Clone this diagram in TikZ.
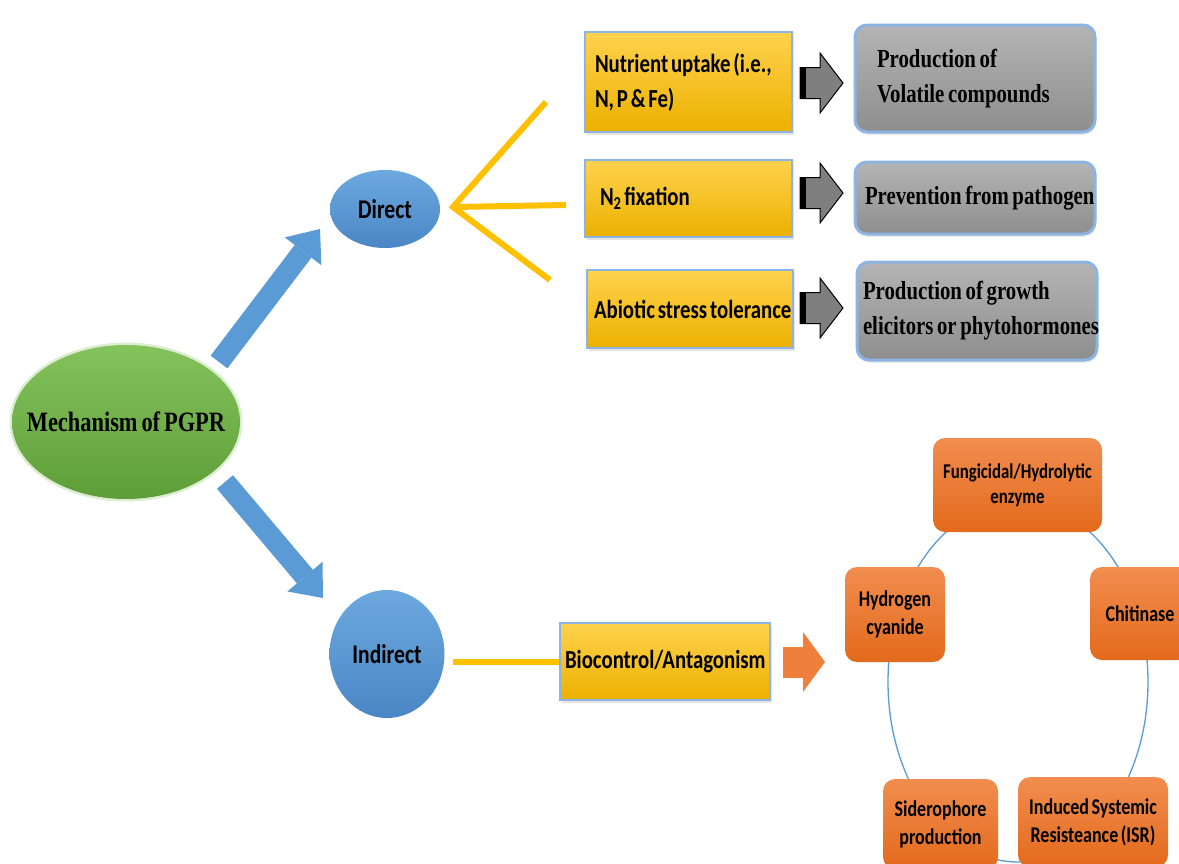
\documentclass[tikz,border=0pt]{standalone}
\usepackage{fontspec}
\usetikzlibrary{arrows.meta,shadows,backgrounds,shapes.geometric}
\newfontfamily\calfont[FakeStretch=0.8,WordSpace=0.6]{Carlito}
\newfontfamily\serfont[FakeStretch=0.8,WordSpace=0.7]{Liberation Serif}
\definecolor{yelT}{HTML}{FFD24D}
\definecolor{yelB}{HTML}{EBB100}
\definecolor{yelLine}{HTML}{FFC000}
\definecolor{glow}{HTML}{8DB3E2}
\definecolor{grayT}{HTML}{B4B4B4}
\definecolor{grayB}{HTML}{8E8E8E}
\definecolor{arrGray}{HTML}{7F7F7F}
\definecolor{orT}{HTML}{F18D4F}
\definecolor{orB}{HTML}{E36A1C}
\definecolor{orArrow}{HTML}{F07F3C}
\definecolor{blueT}{HTML}{6DA9DF}
\definecolor{blueB}{HTML}{4A86C5}
\definecolor{bigBlue}{HTML}{5B9BD5}
\definecolor{greenT}{HTML}{84C25C}
\definecolor{greenB}{HTML}{5E9E38}
\definecolor{cycLine}{HTML}{5B9BD5}
\newcommand\grayblockarrow[1]{%
  \begin{scope}[shift={(#1)}]
    \filldraw[fill=arrGray, draw=black, line width=1pt]
      (0,-15.5) -- (20,-15.5) -- (20,-30) -- (43,0) -- (20,30) -- (20,15.5) -- (0,15.5) -- cycle;
    \fill[black] (0,-15.5) rectangle (6,15.5);
  \end{scope}}
\begin{document}
\begin{tikzpicture}[x=1pt,y=-1pt,
  tightspace/.style={execute at begin node={\spaceskip=0pt\xspaceskip=0pt\relax}},
  ybox/.style={rectangle, draw=glow, line width=2.5pt, top color=yelT, bottom color=yelB,
    drop shadow={opacity=0.2, shadow xshift=2pt, shadow yshift=-3pt},
    font=\calfont\bfseries\fontsize{26}{35}\selectfont, align=left, inner ysep=0pt, text=black, tightspace},
  gbox/.style={rectangle, rounded corners=12pt, draw=glow, line width=3pt, top color=grayT, bottom color=grayB,
    drop shadow={opacity=0.15, shadow xshift=1pt, shadow yshift=-3pt},
    font=\serfont\bfseries\fontsize{26}{35}\selectfont, align=left, inner ysep=0pt, text=black, tightspace},
  obox/.style={rectangle, rounded corners=12pt, top color=orT, bottom color=orB,
    font=\calfont\bfseries\fontsize{22.5}{28}\selectfont, align=center, inner sep=0pt, text=black, tightspace},
  bell/.style={ellipse, top color=blueT, bottom color=blueB, inner sep=0pt,
    font=\calfont\bfseries\fontsize{27}{30}\selectfont, text=black},
  bigarrow/.style={draw=bigBlue, line width=21pt, -{Triangle[width=46pt,length=28pt,line width=0pt]}},
  yline/.style={draw=yelLine, line width=6pt},
  orarrow/.style={draw=orArrow, line width=31pt, -{Triangle[width=60pt,length=22pt,line width=0pt]}},
  cyc/.style={draw=cycLine, line width=1.3pt}
]
\useasboundingbox (0,0) rectangle (1179,863);
\begin{scope}[on background layer]
  \fill[white] (0,0) rectangle (1179,863);
\end{scope}
\clip (0,0) rectangle (1179,863);

% main nodes
\node[ellipse, top color=greenT, bottom color=greenB, minimum width=228pt, minimum height=154pt, inner sep=0pt,
  preaction={draw=greenT!55, line width=5pt, opacity=0.5},
  font=\serfont\bfseries\fontsize{28}{30}\selectfont] (pgpr) at (126,422) {\makebox[0pt]{Mechanism of PGPR}};
\node[bell, minimum width=110pt, minimum height=78pt] (direct) at (385,209) {Direct};
\node[bell, minimum width=115pt, minimum height=128pt] (indirect) at (387,654) {Indirect};

% yellow boxes
\node[ybox, minimum height=100pt, text width=187pt, inner xsep=10pt] (y1) at (688.5,82) {\mbox{Nutrient uptake (i.e.,}\\\mbox{N, P \& Fe)}};
\node[ybox, minimum height=77pt, text width=177pt, inner xsep=15pt] (y2) at (688.5,198.5) {\mbox{N\textsubscript{2} fixation}};
\node[ybox, minimum height=78pt, text width=192pt, inner xsep=7pt] (y3) at (690,309) {\mbox{Abiotic stress tolerance}};
\node[ybox, minimum height=77pt, text width=200pt, inner xsep=5pt, align=center] (bio) at (665,661.5) {\mbox{Biocontrol/Antagonism}};

% gray boxes
\node[gbox, minimum height=107pt, text width=196pt, inner xsep=22pt] (g1) at (975,78.5) {\mbox{Production of}\\\mbox{Volatile compounds}};
\node[gbox, minimum height=72pt, text width=220pt, inner xsep=10pt] (g2) at (975,198) {\mbox{Prevention from pathogen}};
\node[gbox, minimum height=98pt, text width=228pt, inner xsep=6pt] (g3) at (977,311) {\mbox{Production of growth}\\\mbox{elicitors or phytohormones}};

% orange cycle boxes
\node[obox, minimum width=169pt, minimum height=94pt, font=\calfont\bfseries\fontsize{21}{25}\selectfont] (o1) at (1017.5,485) {Fungicidal/Hydrolytic\\enzyme};
\node[obox, minimum width=100pt, minimum height=93pt] (o2) at (1140,613.5) {Chitinase};
\node[obox, minimum width=100pt, minimum height=95pt] (o3) at (895,614.5) {Hydrogen\\cyanide};
\node[obox, minimum width=115pt, minimum height=90pt] (o4) at (940.5,824) {Siderophore\\production};
\node[obox, minimum width=150pt, minimum height=90pt] (o5) at (1093,822) {Induced Systemic\\Resisteance (ISR)};

% cycle connector behind the orange boxes
\coordinate (cycc) at (1018,682);
\begin{scope}[on background layer]
  \draw[cyc] (cycc) ellipse [x radius=130, y radius=180];
\end{scope}

% big blue arrows
\coordinate (a1s) at (219,362);
\coordinate (a1e) at (320,229);
\coordinate (a2s) at (225,482);
\coordinate (a2e) at (323,598);
\draw[bigarrow] (a1s) -- (a1e);
\draw[bigarrow] (a2s) -- (a2e);

% yellow fan from Direct
\coordinate (fan) at (453,207);
\coordinate (l1) at (546,102);
\coordinate (l2) at (566,205);
\coordinate (l3) at (550,280);
\draw[yline] (l1) -- (fan) -- (l3);
\draw[yline] (fan) -- (l2);

% indirect to biocontrol
\coordinate (il) at (453,661.5);
\draw[yline] (il) -- (bio.west);

% orange arrow
\coordinate (oas) at (783,662);
\coordinate (oae) at (825,662);
\draw[orarrow] (oas) -- (oae);

% gray block arrows
\coordinate (ga1) at (800,83);
\coordinate (ga2) at (800,193);
\coordinate (ga3) at (800,308);
\grayblockarrow{ga1}
\grayblockarrow{ga2}
\grayblockarrow{ga3}
\end{tikzpicture}
\end{document}
